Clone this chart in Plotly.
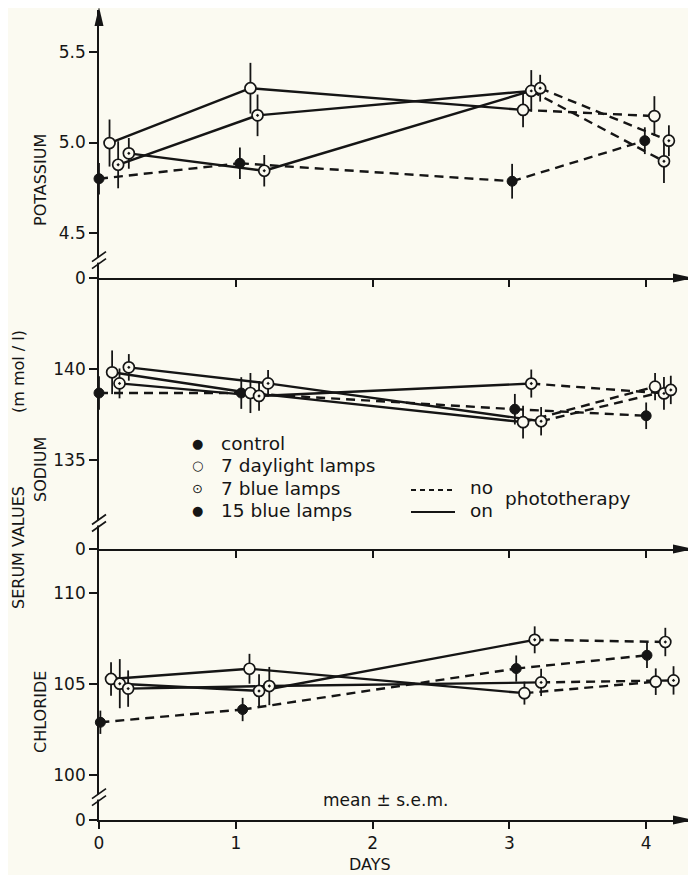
import plotly.graph_objects as go

# ---------------- data ----------------
day_ticks = [0, 1, 2, 3, 4]
day_labels = ["0", "1", "2", "3", "4"]

group_names = ["control", "7 daylight lamps", "7 blue lamps", "15 blue lamps"]
# True = segment drawn while phototherapy is on (solid), False = no phototherapy (dashed)
control_on_segments = [False, False, False]
treated_on_segments = [True, True, False]

# Potassium
k_day_control = [0.0, 1.03, 3.02, 3.99]
k_control = [4.80, 4.885, 4.786, 5.01]
k_control_sem = [0.087, 0.087, 0.096, 0.074]
k_day_daylight7 = [0.077, 1.107, 3.10, 4.06]
k_daylight7 = [4.997, 5.30, 5.18, 5.146]
k_daylight7_sem = [0.13, 0.14, 0.096, 0.11]
k_day_blue7 = [0.14, 1.159, 3.16, 4.13]
k_blue7 = [4.877, 5.15, 5.285, 4.896]
k_blue7_sem = [0.13, 0.115, 0.115, 0.12]
k_day_blue15 = [0.218, 1.208, 3.225, 4.166]
k_blue15 = [4.94, 4.844, 5.30, 5.01]
k_blue15_sem = [0.085, 0.087, 0.074, 0.085]

# Sodium
na_day_control = [0.0, 1.04, 3.04, 4.0]
na_control = [138.68, 138.68, 137.79, 137.43]
na_control_sem = [0.92, 0.87, 0.84, 0.73]
na_day_daylight7 = [0.096, 1.107, 3.10, 4.065]
na_daylight7 = [139.82, 138.68, 137.08, 139.03]
na_daylight7_sem = [1.2, 1.1, 0.9, 0.75]
na_day_blue7 = [0.15, 1.17, 3.16, 4.13]
na_blue7 = [139.21, 138.52, 139.2, 138.66]
na_blue7_sem = [0.82, 0.82, 0.77, 0.9]
na_day_blue15 = [0.218, 1.236, 3.232, 4.18]
na_blue15 = [140.09, 139.21, 137.13, 138.85]
na_blue15_sem = [0.73, 0.73, 0.78, 0.78]

# Chloride
cl_day_control = [0.01, 1.05, 3.05, 4.006]
cl_control = [102.9, 103.6, 105.85, 106.58]
cl_control_sem = [0.64, 0.64, 0.72, 0.7]
cl_day_daylight7 = [0.088, 1.1, 3.11, 4.07]
cl_daylight7 = [105.28, 105.84, 104.5, 105.13]
cl_daylight7_sem = [0.92, 0.82, 0.63, 0.73]
cl_day_blue7 = [0.152, 1.17, 3.185, 4.14]
cl_blue7 = [105.02, 104.62, 107.43, 107.31]
cl_blue7_sem = [1.35, 0.92, 0.74, 0.78]
cl_day_blue15 = [0.213, 1.245, 3.232, 4.2]
cl_blue15 = [104.75, 104.89, 105.09, 105.2]
cl_blue15_sem = [1.0, 1.05, 0.75, 0.78]

# axis scales (broken axes: "0" at the foot of each panel)
k_range = [4.2514, 5.732]
k_ticks = [4.2514, 4.5, 5.0, 5.5]
k_ticktext = ["0", "4.5", "5.0", "5.5"]
k_break = 4.35
na_range = [130.11, 145.0]
na_ticks = [130.11, 135, 140]
na_ticktext = ["0", "135", "140"]
na_break = 131.54
cl_range = [97.53, 112.42]
cl_ticks = [97.53, 100, 105, 110]
cl_ticktext = ["0", "100", "105", "110"]
cl_break = 98.79
x_range = [0, 4.335]

# ---------------- styling ----------------
INK = "#151515"
BG = "#fbfaf1"
FONT = "DejaVu Sans"
OFF = 8                      # browser body margin
W, H = 696 - OFF, 875 - OFF
ML, MR, MT, MB = 99 - OFF, 4, 10 - OFF, 55
PW, PH = W - ML - MR, H - MT - MB


def px2paper(px, py):
    # px, py: page pixel positions
    return (px - OFF - ML) / PW, (H - MB - (py - OFF)) / PH


marker_styles = [
    dict(symbol="circle", size=10, color=INK, line=dict(color=INK, width=1)),
    dict(symbol="circle", size=11, color=BG, line=dict(color=INK, width=1.7)),
    dict(symbol="circle-dot", size=11, color=BG, line=dict(color=INK, width=1.7)),
    dict(symbol="circle-dot", size=11, color=BG, line=dict(color=INK, width=1.7)),
]

dom_b = 271 / 810
dom_m = 542 / 810

panels = [
    # (xaxis, yaxis, series list)
    ("x3", "y3", [(k_day_control, k_control, k_control_sem),
                  (k_day_daylight7, k_daylight7, k_daylight7_sem),
                  (k_day_blue7, k_blue7, k_blue7_sem),
                  (k_day_blue15, k_blue15, k_blue15_sem)]),
    ("x2", "y2", [(na_day_control, na_control, na_control_sem),
                  (na_day_daylight7, na_daylight7, na_daylight7_sem),
                  (na_day_blue7, na_blue7, na_blue7_sem),
                  (na_day_blue15, na_blue15, na_blue15_sem)]),
    ("x", "y", [(cl_day_control, cl_control, cl_control_sem),
                (cl_day_daylight7, cl_daylight7, cl_daylight7_sem),
                (cl_day_blue7, cl_blue7, cl_blue7_sem),
                (cl_day_blue15, cl_blue15, cl_blue15_sem)]),
]

fig = go.Figure()

# connecting lines first (so markers sit on top)
for xa, ya, series in panels:
    for gi, (xs, ys, _) in enumerate(series):
        segs = control_on_segments if gi == 0 else treated_on_segments
        for si, on in enumerate(segs):
            fig.add_trace(go.Scatter(
                x=xs[si:si + 2], y=ys[si:si + 2], xaxis=xa, yaxis=ya,
                mode="lines", showlegend=False, hoverinfo="skip", cliponaxis=False,
                line=dict(color=INK, width=2.4, dash="solid" if on else "9px,6px"),
            ))

# markers with error bars
for xa, ya, series in panels:
    for gi, (xs, ys, es) in enumerate(series):
        fig.add_trace(go.Scatter(
            x=xs, y=ys, xaxis=xa, yaxis=ya, mode="markers", name=group_names[gi],
            showlegend=False, cliponaxis=False, marker=marker_styles[gi],
            error_y=dict(type="data", array=es, visible=True, width=0,
                         thickness=1.8, color=INK),
        ))

axis_common = dict(showgrid=False, zeroline=False, showline=True, linecolor=INK,
                   linewidth=1.7, ticks="outside", tickcolor=INK, tickwidth=1.6,
                   tickfont=dict(family=FONT, size=17, color=INK))

fig.update_layout(
    width=W, height=H, paper_bgcolor=BG, plot_bgcolor=BG,
    margin=dict(l=ML, r=MR, t=MT, b=MB), showlegend=False,
    xaxis=dict(axis_common, domain=[0, 1], range=x_range, anchor="y",
               tickvals=day_ticks, ticktext=day_labels, ticklen=7),
    xaxis2=dict(axis_common, domain=[0, 1], range=x_range, anchor="y2",
                tickvals=day_ticks[1:], showticklabels=False, ticklen=7),
    xaxis3=dict(axis_common, domain=[0, 1], range=x_range, anchor="y3",
                tickvals=day_ticks[1:], showticklabels=False, ticklen=7),
    yaxis=dict(axis_common, domain=[0, dom_b], range=cl_range, anchor="x",
               tickvals=cl_ticks, ticktext=cl_ticktext, ticklen=8),
    yaxis2=dict(axis_common, domain=[dom_b, dom_m], range=na_range, anchor="x2",
                tickvals=na_ticks, ticktext=na_ticktext, ticklen=8),
    yaxis3=dict(axis_common, domain=[dom_m, 1], range=k_range, anchor="x3",
                tickvals=k_ticks, ticktext=k_ticktext, ticklen=8),
)


def value_to_paper(v, rng, dom):
    return dom[0] + (v - rng[0]) / (rng[1] - rng[0]) * (dom[1] - dom[0])


shapes = []
# x-axis arrowheads
for d0 in (0, dom_b, dom_m):
    shapes.append(dict(type="path", xref="paper", yref="paper", xsizemode="pixel",
                       ysizemode="pixel", xanchor=1, yanchor=d0,
                       path="M2,0 L-19,4.5 L-19,-4.5 Z", fillcolor=INK, line=dict(width=0)))
# y-axis arrowhead on top
shapes.append(dict(type="path", xref="paper", yref="paper", xsizemode="pixel", ysizemode="pixel",
                   xanchor=0, yanchor=1,
                   path="M0,3 L-4.5,-16 L4.5,-16 Z", fillcolor=INK, line=dict(width=0)))
# short continuation of the y axis below the bottom baseline
shapes.append(dict(type="line", xref="paper", yref="paper", xsizemode="pixel", ysizemode="pixel",
                   xanchor=0, yanchor=0, x0=0, x1=0, y0=0, y1=-7,
                   line=dict(color=INK, width=1.7)))
# axis breaks "//"
for yb, rng, dom in [(cl_break, cl_range, [0, dom_b]), (na_break, na_range, [dom_b, dom_m]),
                     (k_break, k_range, [dom_m, 1])]:
    yp = value_to_paper(yb, rng, dom)
    shapes.append(dict(type="rect", xref="paper", yref="paper", xsizemode="pixel",
                       ysizemode="pixel", xanchor=0, yanchor=yp, x0=-3, x1=3, y0=-2.5, y1=2.5,
                       fillcolor=BG, line=dict(width=0)))
    for dy in (-3.5, 3.5):
        shapes.append(dict(type="line", xref="paper", yref="paper", xsizemode="pixel",
                           ysizemode="pixel", xanchor=0, yanchor=yp,
                           x0=-7, x1=7, y0=dy - 5, y1=dy + 5,
                           line=dict(color=INK, width=1.7)))
# legend line samples
for py, dash in [(490, "5px,4px"), (512, "solid")]:
    x0, y0 = px2paper(411, py)
    x1, _ = px2paper(455, py)
    shapes.append(dict(type="line", xref="paper", yref="paper", x0=x0, x1=x1, y0=y0, y1=y0,
                       line=dict(color=INK, width=2.2, dash=dash)))
fig.update_layout(shapes=shapes)

ann = []


def add_text(text, px, py, size=16, angle=0, xanchor="center"):
    x, y = px2paper(px, py)
    ann.append(dict(text=text, x=x, y=y, xref="paper", yref="paper", showarrow=False,
                    textangle=angle, xanchor=xanchor, yanchor="middle",
                    font=dict(family=FONT, size=size, color=INK)))


# axis titles
add_text("POTASSIUM", 40, 180, size=16, angle=-90)
add_text("SODIUM", 40, 470, size=16, angle=-90)
add_text("CHLORIDE", 40, 712, size=16, angle=-90)
add_text("SERUM VALUES", 18, 548, size=16, angle=-90)
add_text("(m mol / l)", 18, 372, size=16, angle=-90)
add_text("DAYS", 370, 864, size=16)
add_text("mean ± s.e.m.", 385, 800, size=17)

# legend
legend_glyphs = ["●", "○", "⊙", "●"]
legend_rows = [443, 465, 488, 510]
for g, name, py in zip(legend_glyphs, group_names, legend_rows):
    add_text(g, 197, py, size=13)
    add_text(name, 219, py, size=18.5, xanchor="left")
add_text("no", 468, 487, size=18.5, xanchor="left")
add_text("on", 468, 510, size=18.5, xanchor="left")
add_text("phototherapy", 503, 499, size=18.5, xanchor="left")

fig.update_layout(annotations=ann)

fig.write_html("out.html")
